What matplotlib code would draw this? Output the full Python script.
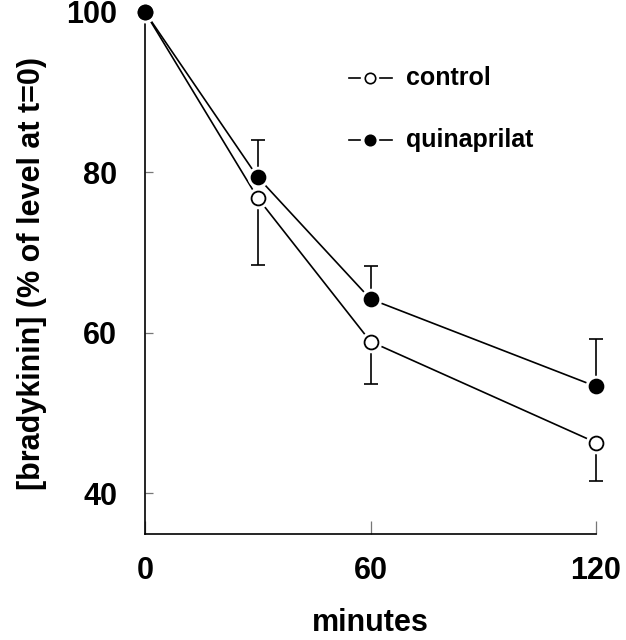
import matplotlib
matplotlib.use("Agg")
import matplotlib.pyplot as plt

plt.rcParams['font.family'] = ['Liberation Sans', 'DejaVu Sans']
plt.rcParams['font.weight'] = 'bold'

minutes = [0, 30, 60, 120]
control = [100, 76.8, 58.9, 46.3]
control_err = [0, 8.3, 5.3, 4.8]
quinaprilat = [100, 79.4, 64.2, 53.3]
quinaprilat_err = [0, 4.6, 4.1, 5.9]
xticks = [0, 60, 120]
yticks = [40, 60, 80, 100]
series_names = ["control", "quinaprilat"]

fig = plt.figure(figsize=(6.26, 6.4), dpi=100)
ax = fig.add_axes([145/626, (640-534)/640, (596-145)/626, (534-12)/640])

ax.set_xlim(0, 120)
ax.set_ylim(34.9, 100)

lw = 1.2
# lines
ax.plot(minutes, control, color='black', lw=lw, zorder=2, clip_on=False)
ax.plot(minutes, quinaprilat, color='black', lw=lw, zorder=2, clip_on=False)
# one-sided error bars
ax.errorbar(minutes, control, yerr=[control_err, [0]*4], fmt='none', ecolor='black',
            elinewidth=lw, capsize=5, capthick=lw, zorder=2, clip_on=False)
ax.errorbar(minutes, quinaprilat, yerr=[[0]*4, quinaprilat_err], fmt='none', ecolor='black',
            elinewidth=lw, capsize=5, capthick=lw, zorder=2, clip_on=False)
# white halos
ax.plot(minutes, control, ls='none', marker='o', ms=15.5, mfc='white', mec='none', zorder=3, clip_on=False)
ax.plot(minutes, quinaprilat, ls='none', marker='o', ms=15.5, mfc='white', mec='none', zorder=3, clip_on=False)
# markers
ax.plot(minutes, control, ls='none', marker='o', ms=10, mfc='white', mec='black', mew=1.3, zorder=4, clip_on=False)
ax.plot(minutes, quinaprilat, ls='none', marker='o', ms=10, mfc='black', mec='black', mew=1.3, zorder=5, clip_on=False)

# manual legend
def px2ax(px, py):
    return ((px - 145) / (596 - 145), (534 - py) / (534 - 12))

for name, py, fc in [(series_names[0], 78, 'white'), (series_names[1], 140, 'black')]:
    x0, y0 = px2ax(349, py)
    x1, _ = px2ax(360, py)
    x2, _ = px2ax(380, py)
    x3, _ = px2ax(392, py)
    xm, _ = px2ax(370, py)
    ax.plot([x0, x1], [y0, y0], color='black', lw=lw, transform=ax.transAxes)
    ax.plot([x2, x3], [y0, y0], color='black', lw=lw, transform=ax.transAxes)
    ax.plot([xm], [y0], marker='o', ms=7.5, mfc=fc, mec='black', mew=1.2, transform=ax.transAxes)
    xt, _ = px2ax(406, py)
    ax.text(xt, y0, name, transform=ax.transAxes, fontsize=18, fontweight='bold',
            va='center', ha='left')

for s in ['top', 'right']:
    ax.spines[s].set_visible(False)
for s in ['left', 'bottom']:
    ax.spines[s].set_linewidth(1.2)

ax.set_xticks(xticks)
ax.set_yticks(yticks)
ax.tick_params(axis='x', direction='in', length=9.5, width=0.9, color='#777777',
               labelsize=22, pad=16)
ax.tick_params(axis='y', direction='in', length=6, width=0.9, color='#777777',
               labelsize=22, pad=20)
for lab in ax.get_xticklabels() + ax.get_yticklabels():
    lab.set_fontweight('bold')

ax.set_xlabel('minutes', fontsize=22, fontweight='bold', labelpad=16)
ax.set_ylabel('[bradykinin] (% of level at t=0)', fontsize=22, fontweight='bold', labelpad=14)

fig.savefig('out.png', dpi=100)
